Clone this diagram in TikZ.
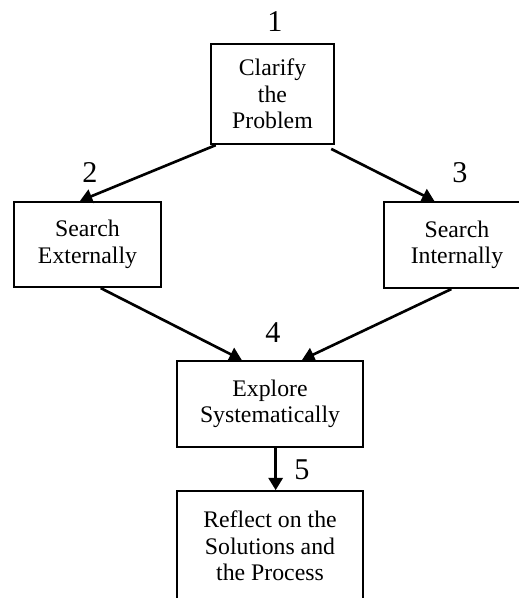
\documentclass[tikz,border=0pt]{standalone}
\usepackage{fontspec}
\setmainfont{Liberation Serif}
\usetikzlibrary{arrows.meta,positioning}
\tikzset{%
  etape/.style={draw, line width=1.2pt, align=center, font=\fontsize{12.6}{14}\selectfont, inner sep=2pt},
  num/.style={font=\fontsize{16}{18}\selectfont, inner sep=0pt},
  line/.style={draw, line width=1.4pt, -{Triangle[length=6.5pt,width=7.5pt]}},
}
\begin{document}
\begin{tikzpicture}[x=0.53pt,y=-0.53pt]
  \path[use as bounding box, clip] (0,0) rectangle (519,598);

  \node (clar) [etape, minimum width=65pt, minimum height=53pt] at (272.5,94) {Clarify\\the\\Problem};
  \node (ext) [etape, minimum width=78pt, minimum height=45pt] at (87.5,244.5) {Search\\Externally};
  \node (int) [etape, minimum width=77.5pt, minimum height=45.5pt] at (457,245) {Search\\Internally};
  \node (expl) [etape, minimum width=98.6pt, minimum height=45.6pt] at (270,404) {Explore\\Systematically};
  \node (refl) [etape, minimum width=98.6pt, minimum height=58pt] at (270,546) {Reflect on the\\Solutions and\\the Process};

  \node (n1) [num] at (275,22) {1};
  \node (n2) [num] at (90,172) {2};
  \node (n3) [num] at (460,173) {3};
  \node (n4) [num] at (273,333) {4};
  \node (n5) [num] at (302,470) {5};

  \path [line] ([xshift=3pt]clar.south west) -- ([xshift=-4pt]ext.north);
  \path [line] ([xshift=-2pt,yshift=-2pt]clar.south east) -- ([xshift=-12pt]int.north);
  \path [line] ([xshift=7pt]ext.south) -- ([xshift=-15pt]expl.north);
  \path [line] ([xshift=-3pt]int.south) -- ([xshift=17pt]expl.north);
  \path [line] ([xshift=3pt]expl.south) -- ([xshift=3pt]refl.north);
\end{tikzpicture}
\end{document}
